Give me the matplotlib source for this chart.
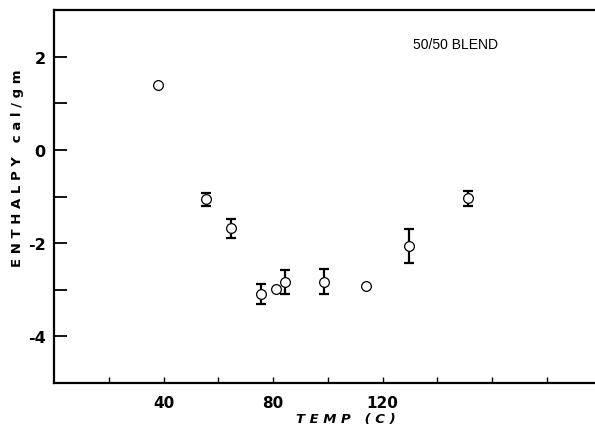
import numpy as np
import matplotlib.pyplot as plt

# enthalpy vs temperature, 50/50 blend
temp = np.array([38, 55.5, 64.5, 75.5, 81, 84.5, 98.5, 114, 129.5, 151])
enthalpy = np.array([1.4, -1.06, -1.68, -3.09, -2.98, -2.84, -2.83, -2.91, -2.06, -1.04])
err = np.array([0, 0.14, 0.2, 0.22, 0, 0.26, 0.27, 0, 0.36, 0.16])

xticks = [20, 40, 60, 80, 100, 120, 140, 160, 180]
xlabels = ['', '40', '', '80', '', '120', '', '', '']
yticks = [-4, -3, -2, -1, 0, 1, 2]
ylabels = ['-4', '', '-2', '', '0', '', '2']

fig = plt.figure(figsize=(5.95, 4.35), dpi=100)
ax = fig.add_axes([54/595, 1 - 384/435, 1 - 54/595, (384 - 11)/435])

has_err = err > 0
ax.errorbar(temp[has_err], enthalpy[has_err], yerr=err[has_err], fmt='none',
            ecolor='black', elinewidth=1.6, capsize=3.5, capthick=1.6, zorder=2)
ax.plot(temp, enthalpy, 'o', ms=7, mfc='white', mec='black', mew=0.9, zorder=3)

ax.set_xlim(0, 197.5)
ax.set_ylim(-5, 3)
ax.set_xticks(xticks)
ax.set_xticklabels(xlabels, fontsize=11, fontweight='bold')
ax.set_yticks(yticks)
ax.set_yticklabels(ylabels, fontsize=11.5, fontweight='bold')
ax.tick_params(axis='y', direction='in', length=9, width=1.3, pad=6)
ax.tick_params(axis='x', direction='in', length=4, width=1.0, pad=9)

ax.spines['right'].set_visible(False)
for s in ['left', 'top', 'bottom']:
    ax.spines[s].set_linewidth(1.6)

ax.text(413/595, 1 - 45/435, '50/50 BLEND', transform=fig.transFigure,
        fontsize=10, family='Liberation Sans', va='center', ha='left')
fig.text(18/595, 1 - 168/435, 'E N T H A L P Y   c a l / g m', rotation=90,
         fontsize=9.5, fontweight='bold', ha='center', va='center')
fig.text(346/595, 1 - 420/435, 'T E M P   ( C )', fontsize=9.5,
         fontweight='bold', fontstyle='italic', ha='center', va='center')

fig.savefig('out.png', dpi=100)
